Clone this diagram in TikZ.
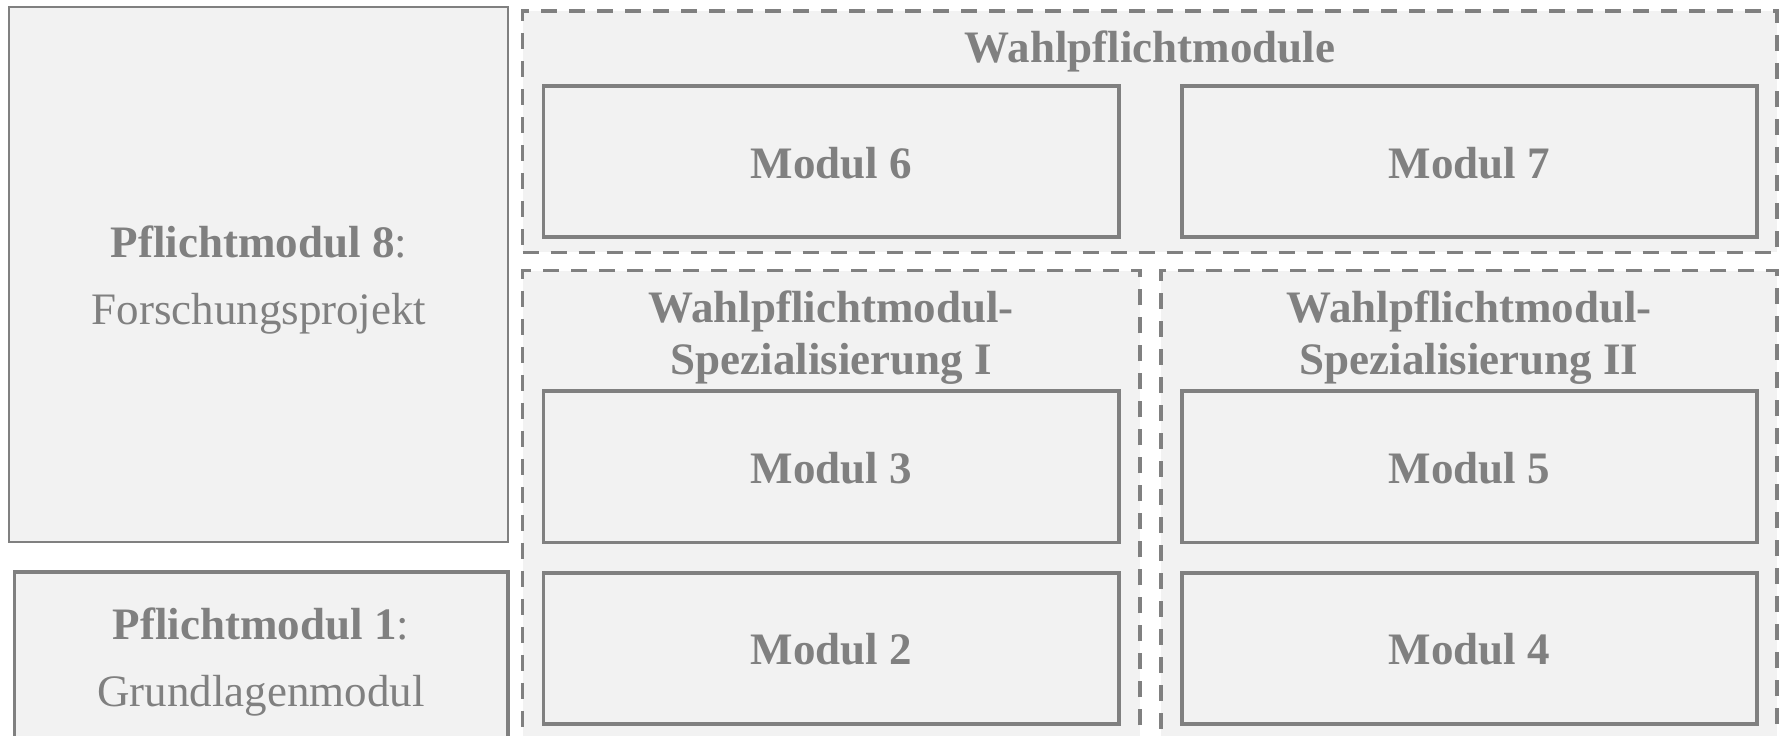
\documentclass[tikz,border=0pt]{standalone}
\usepackage{fontspec}
\setmainfont{Liberation Serif}
\definecolor{linegray}{HTML}{808080}
\definecolor{fillgray}{HTML}{F2F2F2}
\tikzset{
  box/.style={draw=linegray, fill=fillgray, line width=3.3pt, inner sep=0pt, outer sep=0pt},
  dbox/.style={box, line width=3.4pt, dash pattern=on 16pt off 12pt},
  lbl/.style={text=linegray, font=\fontsize{45}{54}\selectfont\bfseries, anchor=base, inner sep=0pt},
  lblr/.style={text=linegray, font=\fontsize{45}{54}\selectfont, anchor=base, inner sep=0pt},
}
\begin{document}
\begin{tikzpicture}[x=1pt,y=-1pt]
\useasboundingbox (0,0) rectangle (1781,736);
\clip (0,0) rectangle (1781,736);
% left column
\node[box, line width=2.6pt, minimum width=499, minimum height=535] (p8) at (258.5,274.5) {};
\node[box, minimum width=493.5, minimum height=208] (p1) at (261.25,676) {};
% dashed groups
\node[dbox, minimum width=1254.3, minimum height=241.3] (wpm) at (1149.85,131.65) {};
\node[dbox, minimum width=617.3, minimum height=509.3] (spi) at (831.35,525.35) {};
\node[dbox, minimum width=616, minimum height=509.3] (spii) at (1469,525.35) {};
% modules
\node[box, minimum width=575.5, minimum height=151] (m6) at (831.25,161.5) {};
\node[box, minimum width=575, minimum height=151] (m7) at (1469.5,161.5) {};
\node[box, minimum width=575.5, minimum height=151.5] (m3) at (831.25,466.75) {};
\node[box, minimum width=575, minimum height=151.5] (m5) at (1469.5,466.75) {};
\node[box, minimum width=575.5, minimum height=151] (m2) at (831.25,648.5) {};
\node[box, minimum width=575, minimum height=151] (m4) at (1469.5,648.5) {};
% texts
\node[lbl] (t6) at (831.25,178) {Modul 6};
\node[lbl] (t7) at (1469.5,178) {Modul 7};
\node[lbl] (t3) at (831.25,483) {Modul 3};
\node[lbl] (t5) at (1469.5,483) {Modul 5};
\node[lbl] (t2) at (831.25,664.5) {Modul 2};
\node[lbl] (t4) at (1469.5,664.5) {Modul 4};
\node[lbl] (twpm) at (1150,62) {Wahlpflichtmodule};
\node[lbl] (tspi1) at (831.35,322) {Wahlpflichtmodul-};
\node[lbl] (tspi2) at (831.35,374) {Spezialisierung I};
\node[lbl] (tspii1) at (1469,322) {Wahlpflichtmodul-};
\node[lbl] (tspii2) at (1469,374) {Spezialisierung II};
\node[lblr] (tp8a) at (259,257) {\textbf{Pflichtmodul 8}:};
\node[lblr] (tp8b) at (259,324) {Forschungsprojekt};
\node[lblr] (tp1a) at (261,639) {\textbf{Pflichtmodul 1}:};
\node[lblr] (tp1b) at (261,706) {Grundlagenmodul};
\end{tikzpicture}
\end{document}
